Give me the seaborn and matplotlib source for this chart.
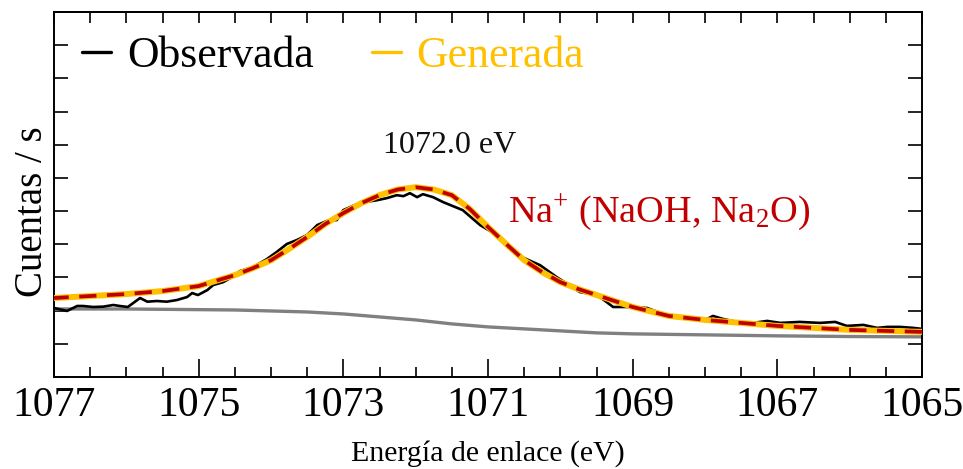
import numpy as np
import pandas as pd
import matplotlib
matplotlib.use("Agg")
import matplotlib.pyplot as plt
from matplotlib.ticker import MultipleLocator
from matplotlib.lines import Line2D
import seaborn as sns

# ---------------- data ----------------
energy_obs = [1077.00, 1076.82, 1076.68, 1076.60, 1076.46, 1076.32, 1076.18, 1076.09,
              1075.98, 1075.81, 1075.71, 1075.58, 1075.44, 1075.30, 1075.16, 1075.09,
              1075.01, 1074.88, 1074.80, 1074.66, 1074.54, 1074.43, 1074.25, 1074.06,
              1073.92, 1073.78, 1073.64, 1073.50, 1073.36, 1073.23, 1073.09, 1073.00,
              1072.84, 1072.70, 1072.53, 1072.40, 1072.26, 1072.17, 1072.08, 1071.98,
              1071.90, 1071.76, 1071.62, 1071.35, 1071.11, 1070.88, 1070.60, 1070.28,
              1070.05, 1069.73, 1069.49, 1069.27, 1069.04, 1068.80, 1068.62, 1068.48,
              1068.25, 1067.97, 1067.89, 1067.75, 1067.56, 1067.34, 1067.14, 1066.96,
              1066.69, 1066.41, 1066.20, 1066.04, 1065.81, 1065.62, 1065.48, 1065.30,
              1065.12, 1065.00]
counts_obs = [208, 199, 214, 214, 211, 212, 217, 214,
              211, 238, 227, 229, 227, 232, 241, 253,
              247, 262, 277, 286, 301, 319, 331, 355,
              377, 401, 413, 428, 458, 470, 473, 503,
              518, 527, 533, 539, 548, 545, 554, 542,
              551, 542, 527, 503, 458, 428, 368, 337,
              301, 256, 247, 211, 211, 208, 193, 181,
              178, 175, 184, 175, 166, 163, 169, 163,
              166, 163, 166, 154, 157, 148, 151, 151,
              148, 145]

energy_gen = [1077.0, 1076.5, 1076.0, 1075.5, 1075.0, 1074.5, 1074.25, 1074.0, 1073.75,
              1073.5, 1073.25, 1073.0, 1072.75, 1072.5, 1072.25, 1072.0, 1071.75, 1071.5,
              1071.25, 1071.0, 1070.75, 1070.5, 1070.25, 1070.0, 1069.75, 1069.5, 1069.0,
              1068.5, 1068.0, 1067.5, 1067.0, 1066.5, 1066.0, 1065.5, 1065.0]
counts_gen = [238, 244, 250, 259, 274, 307, 328, 352, 386,
              422, 461, 494, 524, 548, 565, 572, 565, 548,
              506, 452, 401, 352, 316, 286, 265, 247, 211,
              184, 172, 163, 154, 148, 142, 139, 136]

energy_bg = [1077.0, 1076.0, 1075.0, 1074.5, 1074.0, 1073.5, 1073.0, 1072.5, 1072.0,
             1071.5, 1071.0, 1070.5, 1070.0, 1069.5, 1069.0, 1068.0, 1067.0, 1066.0, 1065.0]
counts_bg = [205, 205, 203, 202, 199, 196, 190, 181, 172,
             160, 151, 145, 139, 133, 130, 127, 124, 122, 121]

x_ticks = [1077, 1075, 1073, 1071, 1069, 1067, 1065]
legend_labels = ["Observada", "Generada"]
peak_label = "1072.0 eV"
component_label = r"Na${}^{+}$ (NaOH, Na${}_{2}$O)"

# ---------------- style ----------------
sns.set_theme(style="white")
plt.rcParams["font.family"] = ["Liberation Serif", "DejaVu Serif"]
plt.rcParams["mathtext.fontset"] = "custom"
plt.rcParams["mathtext.rm"] = "Liberation Serif"
plt.rcParams["mathtext.it"] = "Liberation Serif:italic"
plt.rcParams["mathtext.bf"] = "Liberation Serif:bold"
plt.rcParams["mathtext.default"] = "regular"
for k in ["text.color", "axes.labelcolor", "xtick.color", "ytick.color", "axes.edgecolor"]:
    plt.rcParams[k] = "black"

YELLOW = "#FFC000"
RED = "#C00000"
GRAY = "#808080"

df_obs = pd.DataFrame({"E": energy_obs, "c": counts_obs})
df_gen = pd.DataFrame({"E": energy_gen, "c": counts_gen})
df_bg = pd.DataFrame({"E": energy_bg, "c": counts_bg})

fig = plt.figure(figsize=(9.63, 4.69), dpi=100)
ax = fig.add_axes([54 / 963, 1 - 377 / 469, 868 / 963, 365 / 469])

sns.lineplot(data=df_bg, x="E", y="c", ax=ax, color=GRAY, lw=2.4, estimator=None, zorder=2)
sns.lineplot(data=df_obs, x="E", y="c", ax=ax, color="black", lw=1.9, estimator=None, zorder=3)
sns.lineplot(data=df_gen, x="E", y="c", ax=ax, color=YELLOW, lw=4.3, estimator=None, zorder=4)
sns.lineplot(data=df_gen, x="E", y="c", ax=ax, color=RED, lw=2.7, estimator=None,
             linestyle=(0, (4.6, 2.8)), zorder=5)

ax.set_xlim(1077, 1065)
ax.set_ylim(0, 1100)
ax.set_xticks(x_ticks)
ax.set_xticklabels([str(t) for t in x_ticks])
ax.xaxis.set_minor_locator(MultipleLocator(0.5))
ax.set_yticks(np.arange(0, 1101, 100))
ax.set_yticklabels([])

ax.tick_params(axis="x", which="major", direction="in", length=13, width=1.2,
               labelsize=30, pad=7, top=False, bottom=True, colors="black")
ax.tick_params(axis="x", which="minor", direction="in", length=7, width=1.2,
               top=False, bottom=True)
ax.tick_params(axis="y", which="major", direction="in", length=10, width=1.2,
               left=True, right=True)

sec = ax.secondary_xaxis("top")
sec.set_xticks(np.arange(1065, 1077.01, 0.5))
sec.tick_params(direction="in", length=8, width=1.2, labeltop=False)
sec.spines["top"].set_linewidth(1.4)

for s in ax.spines.values():
    s.set_linewidth(1.4)
    s.set_color("black")

ax.set_xlabel("Energía de enlace (eV)", fontsize=21.5, labelpad=11)
ax.set_ylabel("Cuentas / s", fontsize=28)
ax.yaxis.set_label_coords(-0.004, 0.452)

ax.text(1072.45, 699, peak_label, fontsize=23, color="#111111", ha="left", va="center")
ax.text(1070.72, 494, component_label, fontsize=27.5, color=RED, ha="left", va="center")

handles = [Line2D([0], [0], color="black", lw=2.4), Line2D([0], [0], color=YELLOW, lw=2.4)]
leg = ax.legend(handles, legend_labels, loc="upper left", bbox_to_anchor=(0.005, 1.0),
                ncol=2, frameon=False, fontsize=31.5, handlelength=0.66,
                handletextpad=0.36, columnspacing=1.33, borderaxespad=0.15)
leg.get_texts()[0].set_color("black")
leg.get_texts()[1].set_color(YELLOW)

fig.savefig("out.png", dpi=100)
